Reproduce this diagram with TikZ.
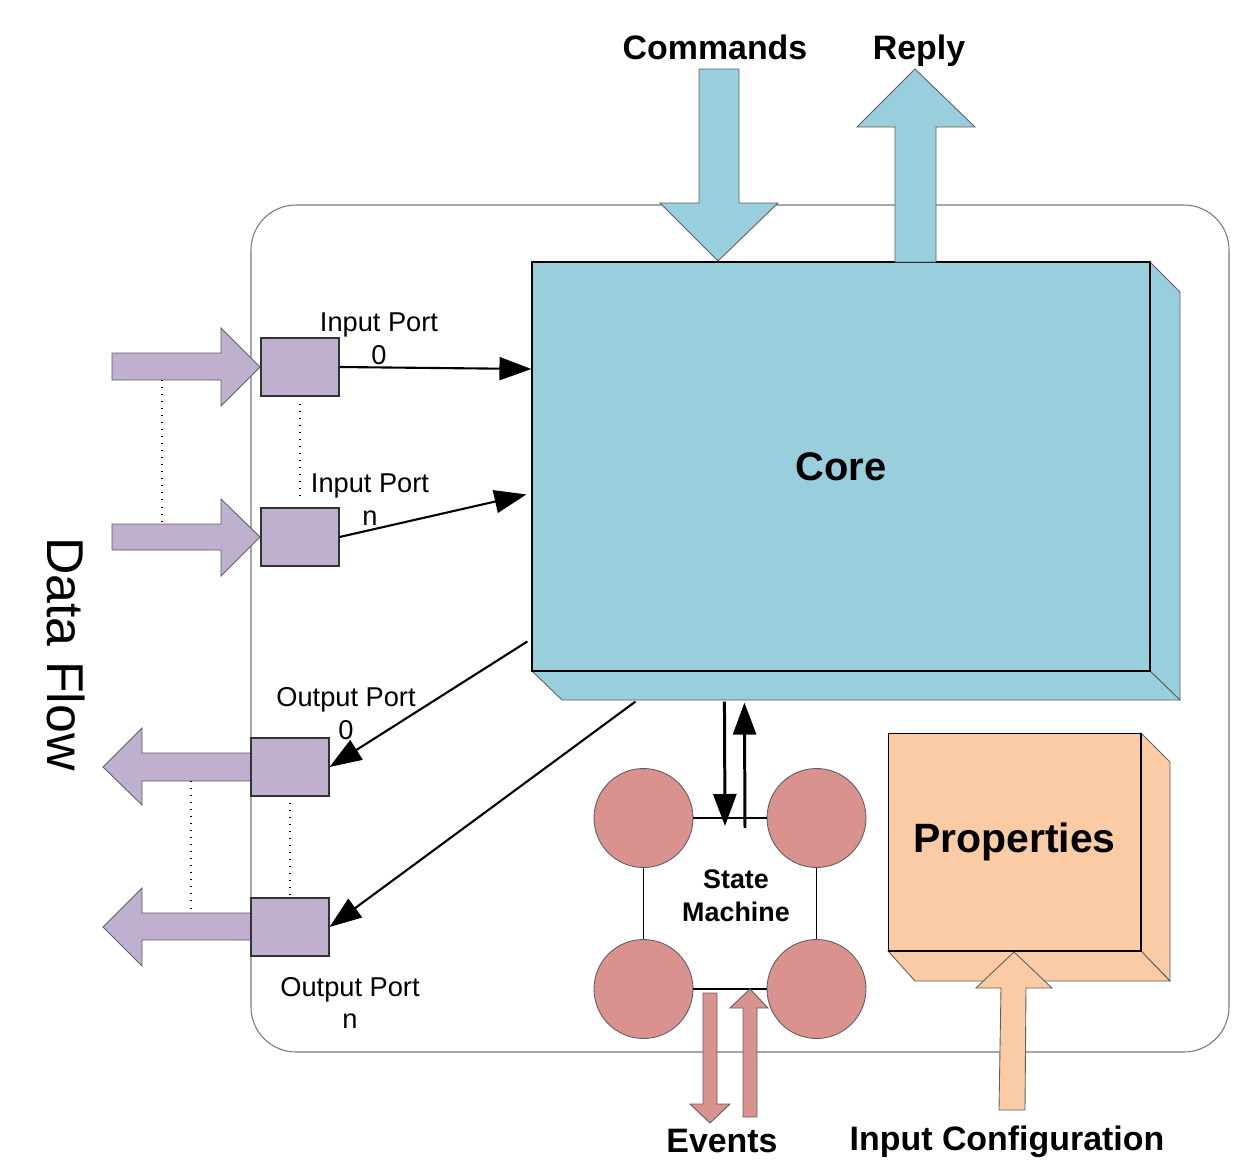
\documentclass[tikz,border=0pt]{standalone}
\usepackage{fontspec}
\setmainfont{Liberation Sans}
\usetikzlibrary{arrows.meta,calc}

\definecolor{coreblue}{RGB}{153,207,221}
\definecolor{portpurple}{RGB}{191,176,208}
\definecolor{statepink}{RGB}{217,146,142}
\definecolor{propspeach}{RGB}{250,203,165}
\definecolor{edgegray}{RGB}{95,95,95}
\definecolor{framegray}{RGB}{120,120,120}

\begin{document}
\begin{tikzpicture}[x=0.02cm,y=-0.02cm,
  port/.style={draw=black!80, fill=portpurple, minimum width=1.56cm,
    minimum height=1.16cm, inner sep=0pt, line width=0.6pt},
  conn/.style={line width=1.2pt, -{Triangle[length=0.64cm,width=0.46cm]}},
  blockarrow/.style={draw=edgegray, line width=0.5pt, line join=miter},
  face/.style={draw=edgegray, line width=0.5pt, line join=miter},
  portlbl/.style={font=\fontsize{15.5}{18.7}\selectfont, align=center, inner sep=0pt},
  title/.style={font=\bfseries\fontsize{19.3}{23}\selectfont, inner sep=0pt, anchor=base},
  statecirc/.style={circle, draw=edgegray, fill=statepink, minimum size=1.98cm,
    inner sep=0pt, line width=0.5pt},
  dots/.style={line width=0.6pt, dash pattern=on 0.5pt off 3.5pt}
]
\useasboundingbox (0,0) rectangle (1259,1160);

% component frame
\draw[framegray, line width=0.6pt, rounded corners=0.9cm] (251,205) rectangle (1229,1052);

% core block: depth faces, then front face
\filldraw[face, fill=coreblue] (1150,262) -- (1180,292) -- (1180,700) -- (1150,671) -- cycle;
\filldraw[face, fill=coreblue] (532,671) -- (1150,671) -- (1180,700) -- (562,700) -- cycle;
\node[draw=black, fill=coreblue, line width=0.7pt, minimum width=12.36cm,
  minimum height=8.18cm, inner sep=0pt,
  font=\bfseries\fontsize{22.7}{27}\selectfont] (core) at (841,466.5) {Core};

% properties block
\filldraw[face, fill=propspeach] (1141,733) -- (1170,762) -- (1170,981) -- (1141,951) -- cycle;
\filldraw[face, fill=propspeach] (888,951) -- (1141,951) -- (1170,981) -- (915,981) -- cycle;
\node[draw=black, fill=propspeach, line width=0.6pt, minimum width=5.06cm,
  minimum height=4.36cm, inner sep=0pt,
  font=\bfseries\fontsize{23.3}{28}\selectfont] (props) at (1014.5,842) {Properties};

% commands and reply
\filldraw[blockarrow, fill=coreblue] (699,69) -- (739,69) -- (739,203) -- (778,203)
  -- (718,261) -- (660,203) -- (699,203) -- cycle;
\filldraw[blockarrow, fill=coreblue] (895,262) -- (895,127) -- (857,127) -- (915,69)
  -- (975,127) -- (936,127) -- (936,262) -- cycle;
\node[title] (cmd) at (715,59) {Commands};
\node[title] (reply) at (919,59) {Reply};

% data flow block arrows
\filldraw[blockarrow, fill=portpurple] (112,353) -- (221,353) -- (221,328) -- (260,367)
  -- (221,406) -- (221,380) -- (112,380) -- cycle;
\filldraw[blockarrow, fill=portpurple] (112,524) -- (221,524) -- (221,499) -- (260,537)
  -- (221,576) -- (221,550) -- (112,550) -- cycle;
\filldraw[blockarrow, fill=portpurple] (251,753) -- (142,753) -- (142,728) -- (103,767)
  -- (142,805) -- (142,781) -- (251,781) -- cycle;
\filldraw[blockarrow, fill=portpurple] (251,913) -- (142,913) -- (142,888) -- (103,927)
  -- (142,966) -- (142,940) -- (251,940) -- cycle;
\draw[dots] (162,380) -- (162,522);
\draw[dots] (191,781) -- (191,908);
\node[rotate=-90, font=\fontsize{29.5}{35}\selectfont, inner sep=0pt] (flow) at (66,654) {Data Flow};

% ports
\node[port] (in0) at (300,367) {};
\node[port] (inn) at (300,537) {};
\node[port] (out0) at (290,767) {};
\node[port] (outn) at (290,927) {};
\draw[dots, shorten <=0.14cm, shorten >=0.16cm] (in0.south) -- (inn.north);
\draw[dots, shorten <=0.12cm, shorten >=0.06cm] (out0.south) -- (outn.north);

\node[portlbl] (in0lbl) at (379,339) {Input Port\\0};
\node[portlbl] (innlbl) at (370,500) {Input Port\\n};
\node[portlbl] (out0lbl) at (346,714) {Output Port\\0};
\node[portlbl] (outnlbl) at (350,1003) {Output Port\\n};

% port connectors
\draw[conn] (in0.east) -- (core.west |- 0,369);
\draw[conn] (inn.east) -- ($(core.north west)+(-5,233)$);
\draw[conn] ($(core.north west)+(-4,380)$) -- (out0.east);
\draw[conn] ($(core.south west)+(104,30)$) -- (outn.east);

% state machine
\node[statecirc] (s1) at (643.5,818) {};
\node[statecirc] (s2) at (816.5,818) {};
\node[statecirc] (s3) at (643.5,989) {};
\node[statecirc] (s4) at (816.5,989) {};
\draw[line width=0.6pt] (s1) -- (s2);
\draw[line width=0.6pt] (s2) -- (s4);
\draw[line width=0.6pt] (s4) -- (s3);
\draw[line width=0.6pt] (s3) -- (s1);
\node[font=\bfseries\fontsize{15.3}{18.7}\selectfont, align=center, inner sep=0pt]
  (smlbl) at (736,896) {State\\Machine};

\coordinate (smin) at (725,826);
\coordinate (smout) at (745,828);
\draw[conn, line width=1.7pt] ($(core.south west)+(193,30)$) -- (smin);
\draw[conn, line width=1.7pt] (smout) -- ($(core.south west)+(213,31)$);

% events
\filldraw[blockarrow, fill=statepink] (703,993) -- (717,993) -- (717,1104) -- (730,1104)
  -- (710,1123) -- (690,1104) -- (703,1104) -- cycle;
\filldraw[blockarrow, fill=statepink] (743,1117) -- (743,1008) -- (730,1008) -- (750,989)
  -- (768,1008) -- (757,1008) -- (757,1117) -- cycle;
\node[title] (events) at (722,1152) {Events};

% input configuration
\filldraw[blockarrow, fill=propspeach] (999,1110) -- (1001,988) -- (976,988) -- (1014,952)
  -- (1052,988) -- (1026,988) -- (1025,1110) -- cycle;
\node[title] (incfg) at (1007,1150) {Input Configuration};
\end{tikzpicture}
\end{document}
